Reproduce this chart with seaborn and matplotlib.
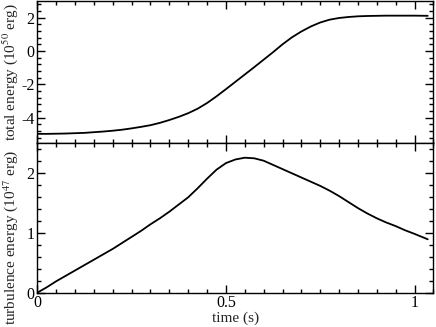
import matplotlib
matplotlib.use("Agg")
import matplotlib.pyplot as plt
import seaborn as sns
import pandas as pd
from matplotlib.ticker import MultipleLocator

time_s = [0, 0.025, 0.05, 0.075, 0.1, 0.125, 0.15, 0.175, 0.2, 0.225, 0.25,
          0.275, 0.3, 0.325, 0.35, 0.375, 0.4, 0.425, 0.45, 0.475, 0.5,
          0.525, 0.55, 0.575, 0.6, 0.625, 0.65, 0.675, 0.7, 0.725, 0.75,
          0.775, 0.8, 0.825, 0.85, 0.875, 0.9, 0.925, 0.95, 0.975, 1.0, 1.035]
total_energy = [-4.97, -4.97, -4.96, -4.95, -4.93, -4.91, -4.87, -4.83, -4.78,
                -4.72, -4.64, -4.55, -4.45, -4.31, -4.14, -3.95, -3.73, -3.46,
                -3.12, -2.72, -2.29, -1.85, -1.41, -0.97, -0.52, -0.07, 0.40,
                0.82, 1.17, 1.47, 1.71, 1.88, 1.98, 2.04, 2.08, 2.10, 2.11,
                2.12, 2.12, 2.12, 2.12, 2.11]
turbulence_energy = [0.0, 0.09, 0.19, 0.28, 0.37, 0.46, 0.55, 0.64, 0.73, 0.83,
                     0.93, 1.03, 1.14, 1.24, 1.35, 1.47, 1.59, 1.74, 1.90, 2.05,
                     2.16, 2.22, 2.25, 2.24, 2.20, 2.13, 2.06, 1.99, 1.92, 1.85,
                     1.78, 1.70, 1.61, 1.51, 1.41, 1.32, 1.24, 1.17, 1.11, 1.04,
                     0.98, 0.89]

df = pd.DataFrame({"time": time_s, "total": total_energy, "turb": turbulence_energy})

sns.set_style("ticks")
plt.rcParams['font.family'] = ['Liberation Serif', 'DejaVu Serif']
plt.rcParams['mathtext.fontset'] = 'stix'
plt.rcParams['axes.unicode_minus'] = False

fig = plt.figure(figsize=(4.36, 3.27), dpi=100)
ax1 = fig.add_axes([0.0856, 0.5636, 0.994 - 0.0856, 0.997 - 0.5636])
ax2 = fig.add_axes([0.0856, 0.105, 0.994 - 0.0856, 0.5636 - 0.105])

sns.lineplot(data=df, x="time", y="total", ax=ax1, color="black", lw=1.3,
             estimator=None, sort=False)
sns.lineplot(data=df, x="time", y="turb", ax=ax2, color="black", lw=1.3,
             estimator=None, sort=False)

for ax in (ax1, ax2):
    ax.set_xlim(0, 1.05)
    ax.xaxis.set_major_locator(MultipleLocator(0.5))
    ax.xaxis.set_minor_locator(MultipleLocator(0.05))
    ax.tick_params(which='both', direction='in', top=True, right=True,
                   labelsize=11.5, colors='black', pad=2)
    ax.tick_params(which='major', length=6, width=1)
    ax.tick_params(which='minor', length=3, width=1)
    for s in ax.spines.values():
        s.set_visible(True)
        s.set_linewidth(1)
        s.set_color('black')

ax1.set_ylim(-5.5, 3)
ax1.yaxis.set_major_locator(MultipleLocator(2))
ax1.yaxis.set_minor_locator(MultipleLocator(0.4))
ax1.set_xticklabels([])
ax1.set_xlabel("")
ax1.set_ylabel(r"total energy (10$^{50}$ erg)", fontsize=11)
ax1.yaxis.set_label_coords(-0.043, 0.5)

ax2.set_ylim(0, 2.5)
ax2.yaxis.set_major_locator(MultipleLocator(1))
ax2.yaxis.set_minor_locator(MultipleLocator(0.2))
ax2.set_xticks([0, 0.5, 1])
ax2.set_xticklabels(["0", "0.5", "1"])
ax2.set_xlabel("time (s)", fontsize=11, labelpad=0)
ax2.set_ylabel(r"turbulence energy (10$^{47}$ erg)", fontsize=11)
ax2.yaxis.set_label_coords(-0.043, 0.37)

fig.savefig("out.png", dpi=100)
